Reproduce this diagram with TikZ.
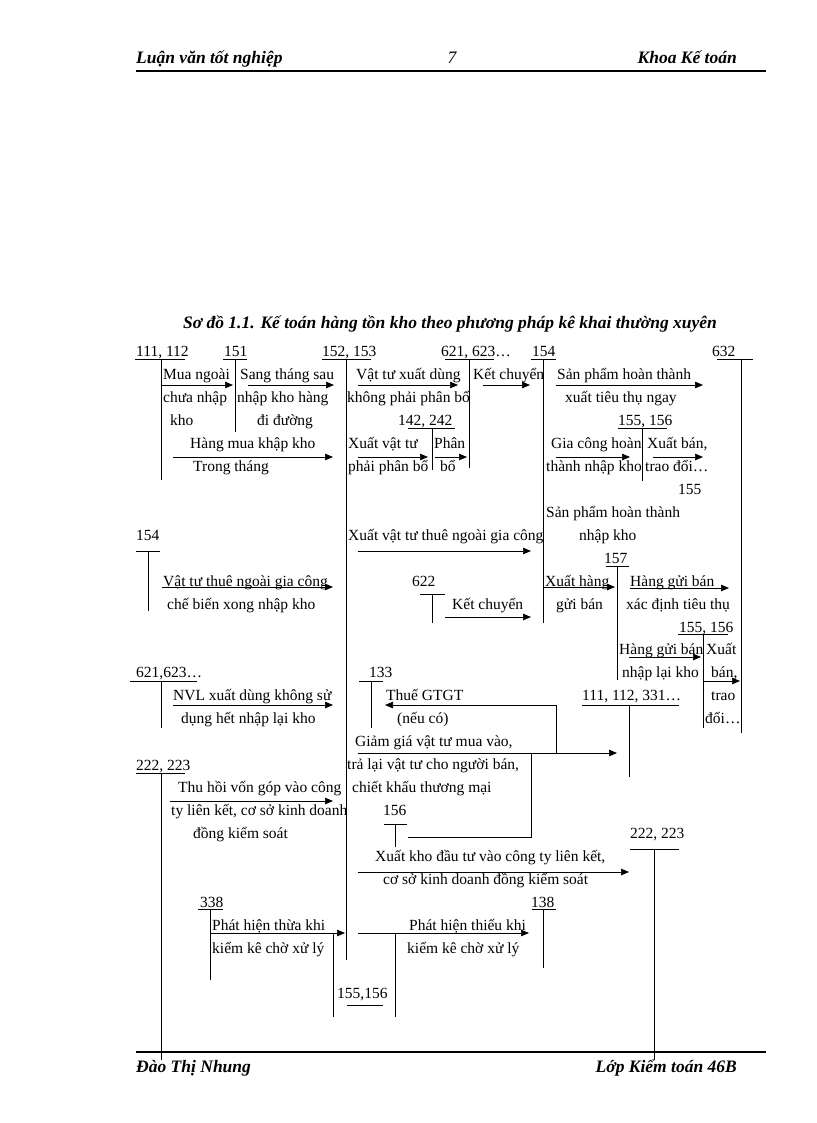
\documentclass[tikz,border=0pt]{standalone}
\usepackage{fontspec}
\setmainfont{Liberation Serif}
\usetikzlibrary{arrows.meta}
\newcommand\dfont{\fontsize{15.5}{18}\selectfont}
\newcommand\hfont{\fontsize{17.5}{20}\selectfont\bfseries\itshape}
\tikzset{
  lbl/.style={font=\dfont, anchor=base west, inner sep=0pt},
  lblr/.style={font=\hfont, anchor=base east, inner sep=0pt},
  lbll/.style={font=\hfont, anchor=base west, inner sep=0pt},
  ln/.style={line width=0.7pt},
  arr/.style={line width=0.7pt, -{Triangle[length=8pt,width=6.5pt]}},
  rule/.style={line width=1.8pt}
}
\begin{document}
\begin{tikzpicture}[x=1pt,y=-1pt]
\useasboundingbox (0,0) rectangle (816,1123);
% header / footer
\node[lbll] (h1) at (136,64) {Luận văn tốt nghiệp};
\node[font=\fontsize{17.5}{20}\selectfont\itshape, anchor=base, inner sep=0pt] (h2) at (452,64) {7};
\node[lblr] (h3) at (737,64) {Khoa Kế toán};
\draw[rule] (136,71) coordinate (hr1) -- (766,71) coordinate (hr2);
\draw[rule] (136,1052) coordinate (fr1) -- (766,1052) coordinate (fr2);
\node[lbll] (f1) at (136,1072) {Đào Thị Nhung};
\node[lblr] (f2) at (737,1072) {Lớp Kiểm toán 46B};
\node[font=\hfont, anchor=base, inner sep=0pt] (title) at (450,328) {Sơ đồ 1.1. Kế toán hàng tồn kho theo phương pháp kê khai thường xuyên};

% account labels
\node[lbl] (a1) at (136,356) {111, 112};
\node[lbl] (a2) at (224,356) {151};
\node[lbl] (a3) at (322,356) {152, 153};
\node[lbl] (a4) at (441,356) {621, 623…};
\node[lbl] (a5) at (532,356) {154};
\node[lbl] (a6) at (712,356) {632};
\node[lbl] (a7) at (398,425) {142, 242};
\node[lbl] (a8) at (618,425) {155, 156};
\node[lbl] (a8b) at (678,494) {155};
\node[lbl] (a9) at (604,563) {157};
\node[lbl] (a10) at (136,540) {154};
\node[lbl] (a11) at (412,586) {622};
\node[lbl] (a12) at (679,632) {155, 156};
\node[lbl] (a13) at (136,677) {621,623…};
\node[lbl] (a14) at (369,677) {133};
\node[lbl] (a15) at (582,700) {111, 112, 331…};
\node[lbl] (a16) at (136,770) {222, 223};
\node[lbl] (a17) at (383,815) {156};
\node[lbl] (a18) at (630,838) {222, 223};
\node[lbl] (a19) at (200,907) {338};
\node[lbl] (a20) at (531,907) {138};
\node[lbl] (a21) at (337,998) {155,156};

% T-accounts
\draw[ln] (135,359) -- (185,359) (161,359) -- (161,480);
\draw[ln] (223,359) -- (247,359) (235,359) -- (235,432);
\draw[ln] (322,359) -- (371,359) (346,359) -- (346,960);
\draw[ln] (445,359) -- (494,359) (469,359) -- (469,468);
\draw[ln] (531,359) -- (556,359) (543,359) -- (543,623);
\draw[ln] (717,359) -- (753,359) (741,359) -- (741,733);
\draw[ln] (408,428) -- (455,428) (432,428) -- (432,470);
\draw[ln] (618,428) -- (667,428) (642,428) -- (642,481);
\draw[ln] (606,566) -- (629,566) (617,566) -- (617,680);
\draw[ln] (136,551) -- (160,551) (148,551) -- (148,611);
\draw[ln] (420,594) -- (445,594) (432,594) -- (432,623);
\draw[ln] (678,634) -- (728,634) (703,634) -- (703,728);
\draw[ln] (130,681) -- (197,681) (161,681) -- (161,728);
\draw[ln] (359,681) -- (383,681) (371,681) -- (371,728);
\draw[ln] (582,705) -- (679,705) (629,705) -- (629,777);
\draw[ln] (136,773) -- (185,773) (161,773) -- (161,1060);
\draw[ln] (384,824) -- (407,824) (395,824) -- (395,847);
\draw[ln] (630,849) -- (679,849) (654,849) -- (654,1060);
\draw[ln] (198,909) -- (223,909) (210,909) -- (210,980);
\draw[ln] (532,909) -- (556,909) (543,909) -- (543,968);
\draw[ln] (347,1005) -- (383,1005) (333,933) -- (333,1017) (395,933) -- (395,1017);

% texts
\node[lbl] (t1) at (163,379) {Mua ngoài};
\node[lbl] (t2) at (163,402) {chưa nhập};
\node[lbl] (t3) at (170,425) {kho};
\node[lbl] (t4) at (240,379) {Sang tháng sau};
\node[lbl] (t5) at (237,402) {nhập kho hàng};
\node[lbl] (t6) at (257,425) {đi đường};
\node[lbl] (t7) at (356,379) {Vật tư xuất dùng};
\node[lbl] (t8) at (347,402) {không phải phân bổ};
\node[lbl] (t9) at (473,379) {Kết chuyển};
\node[lbl] (t10) at (557,379) {Sản phẩm hoàn thành};
\node[lbl] (t11) at (565,402) {xuất tiêu thụ ngay};
\node[lbl] (t12) at (190,448) {Hàng mua khập kho};
\node[lbl] (t13) at (193,471) {Trong tháng};
\node[lbl] (t14) at (348,448) {Xuất vật tư};
\node[lbl] (t15) at (348,471) {phải phân bổ};
\node[lbl] (t16) at (434,448) {Phân};
\node[lbl] (t17) at (440,471) {bổ};
\node[lbl] (t18) at (551,448) {Gia công hoàn};
\node[lbl] (t19) at (546,471) {thành nhập kho};
\node[lbl] (t20) at (647,448) {Xuất bán,};
\node[lbl] (t21) at (645,471) {trao đổi…};
\node[lbl] (t22) at (546,517) {Sản phẩm hoàn thành};
\node[lbl] (t23) at (579,540) {nhập kho};
\node[lbl] (t24) at (348,540) {Xuất vật tư thuê ngoài gia công};
\node[lbl] (t25) at (163,586) {Vật tư thuê ngoài gia công};
\node[lbl] (t26) at (167,609) {chế biến xong nhập kho};
\node[lbl] (t27) at (452,609) {Kết chuyển};
\node[lbl] (t28) at (545,586) {Xuất hàng};
\node[lbl] (t29) at (556,609) {gửi bán};
\node[lbl] (t30) at (630,586) {Hàng gửi bán};
\node[lbl] (t31) at (626,609) {xác định tiêu thụ};
\node[lbl] (t32) at (619,654) {Hàng gửi bán};
\node[lbl] (t33) at (622,677) {nhập lại kho};
\node[lbl] (t34) at (706,654) {Xuất};
\node[lbl] (t35) at (711,677) {bán,};
\node[lbl] (t36) at (711,700) {trao};
\node[lbl] (t37) at (705,723) {đổi…};
\node[lbl] (t38) at (173,700) {NVL xuất dùng không sử};
\node[lbl] (t39) at (181,723) {dụng hết nhập lại kho};
\node[lbl] (t40) at (386,700) {Thuế GTGT};
\node[lbl] (t41) at (397,723) {(nếu có)};
\node[lbl] (t42) at (355,746) {Giảm giá vật tư mua vào,};
\node[lbl] (t43) at (347,769) {trả lại vật tư cho người bán,};
\node[lbl] (t44) at (352,792) {chiết khấu thương mại};
\node[lbl] (t45) at (178,792) {Thu hồi vốn góp vào công};
\node[lbl] (t46) at (171,815) {ty liên kết, cơ sở kinh doanh};
\node[lbl] (t47) at (193,838) {đồng kiểm soát};
\node[lbl] (t48) at (375,861) {Xuất kho đầu tư vào công ty liên kết,};
\node[lbl] (t49) at (383,884) {cơ sở kinh doanh đồng kiểm soát};
\node[lbl] (t50) at (212,930) {Phát hiện thừa khi};
\node[lbl] (t51) at (212,953) {kiểm kê chờ xử lý};
\node[lbl] (t52) at (409,930) {Phát hiện thiếu khi};
\node[lbl] (t53) at (407,953) {kiểm kê chờ xử lý};

% arrows
\draw[arr] (161,385) -- (233,385);
\draw[arr] (248,385) -- (334,385);
\draw[arr] (358,385) -- (458,385);
\draw[arr] (483,385) -- (530,385);
\draw[arr] (556,385) -- (703,385);
\draw[arr] (173,457) -- (333,457);
\draw[arr] (358,457) -- (428,457);
\draw[arr] (435,457) -- (467,457);
\draw[arr] (556,457) -- (630,457);
\draw[arr] (653,457) -- (703,457);
\draw[arr] (358,551) -- (531,551);
\draw[arr] (162,587) -- (333,587);
\draw[arr] (445,617) -- (531,617);
\draw[arr] (543,587) -- (615,587);
\draw[arr] (630,588) -- (729,588);
\draw[arr] (629,657) -- (701,657);
\draw[arr] (703,681) -- (740,681);
\draw[arr] (173,705) -- (333,705);
\draw[arr] (556,753) -- (556,705) -- (385,705);
\draw[arr] (358,753) -- (617,753);
\draw[ln] (408,837) -- (531,837) -- (531,753);
\draw[arr] (170,801) -- (333,801);
\draw[arr] (358,872) -- (629,872);
\draw[arr] (210,933) -- (345,933);
\draw[arr] (358,933) -- (529,933);
\end{tikzpicture}
\end{document}
